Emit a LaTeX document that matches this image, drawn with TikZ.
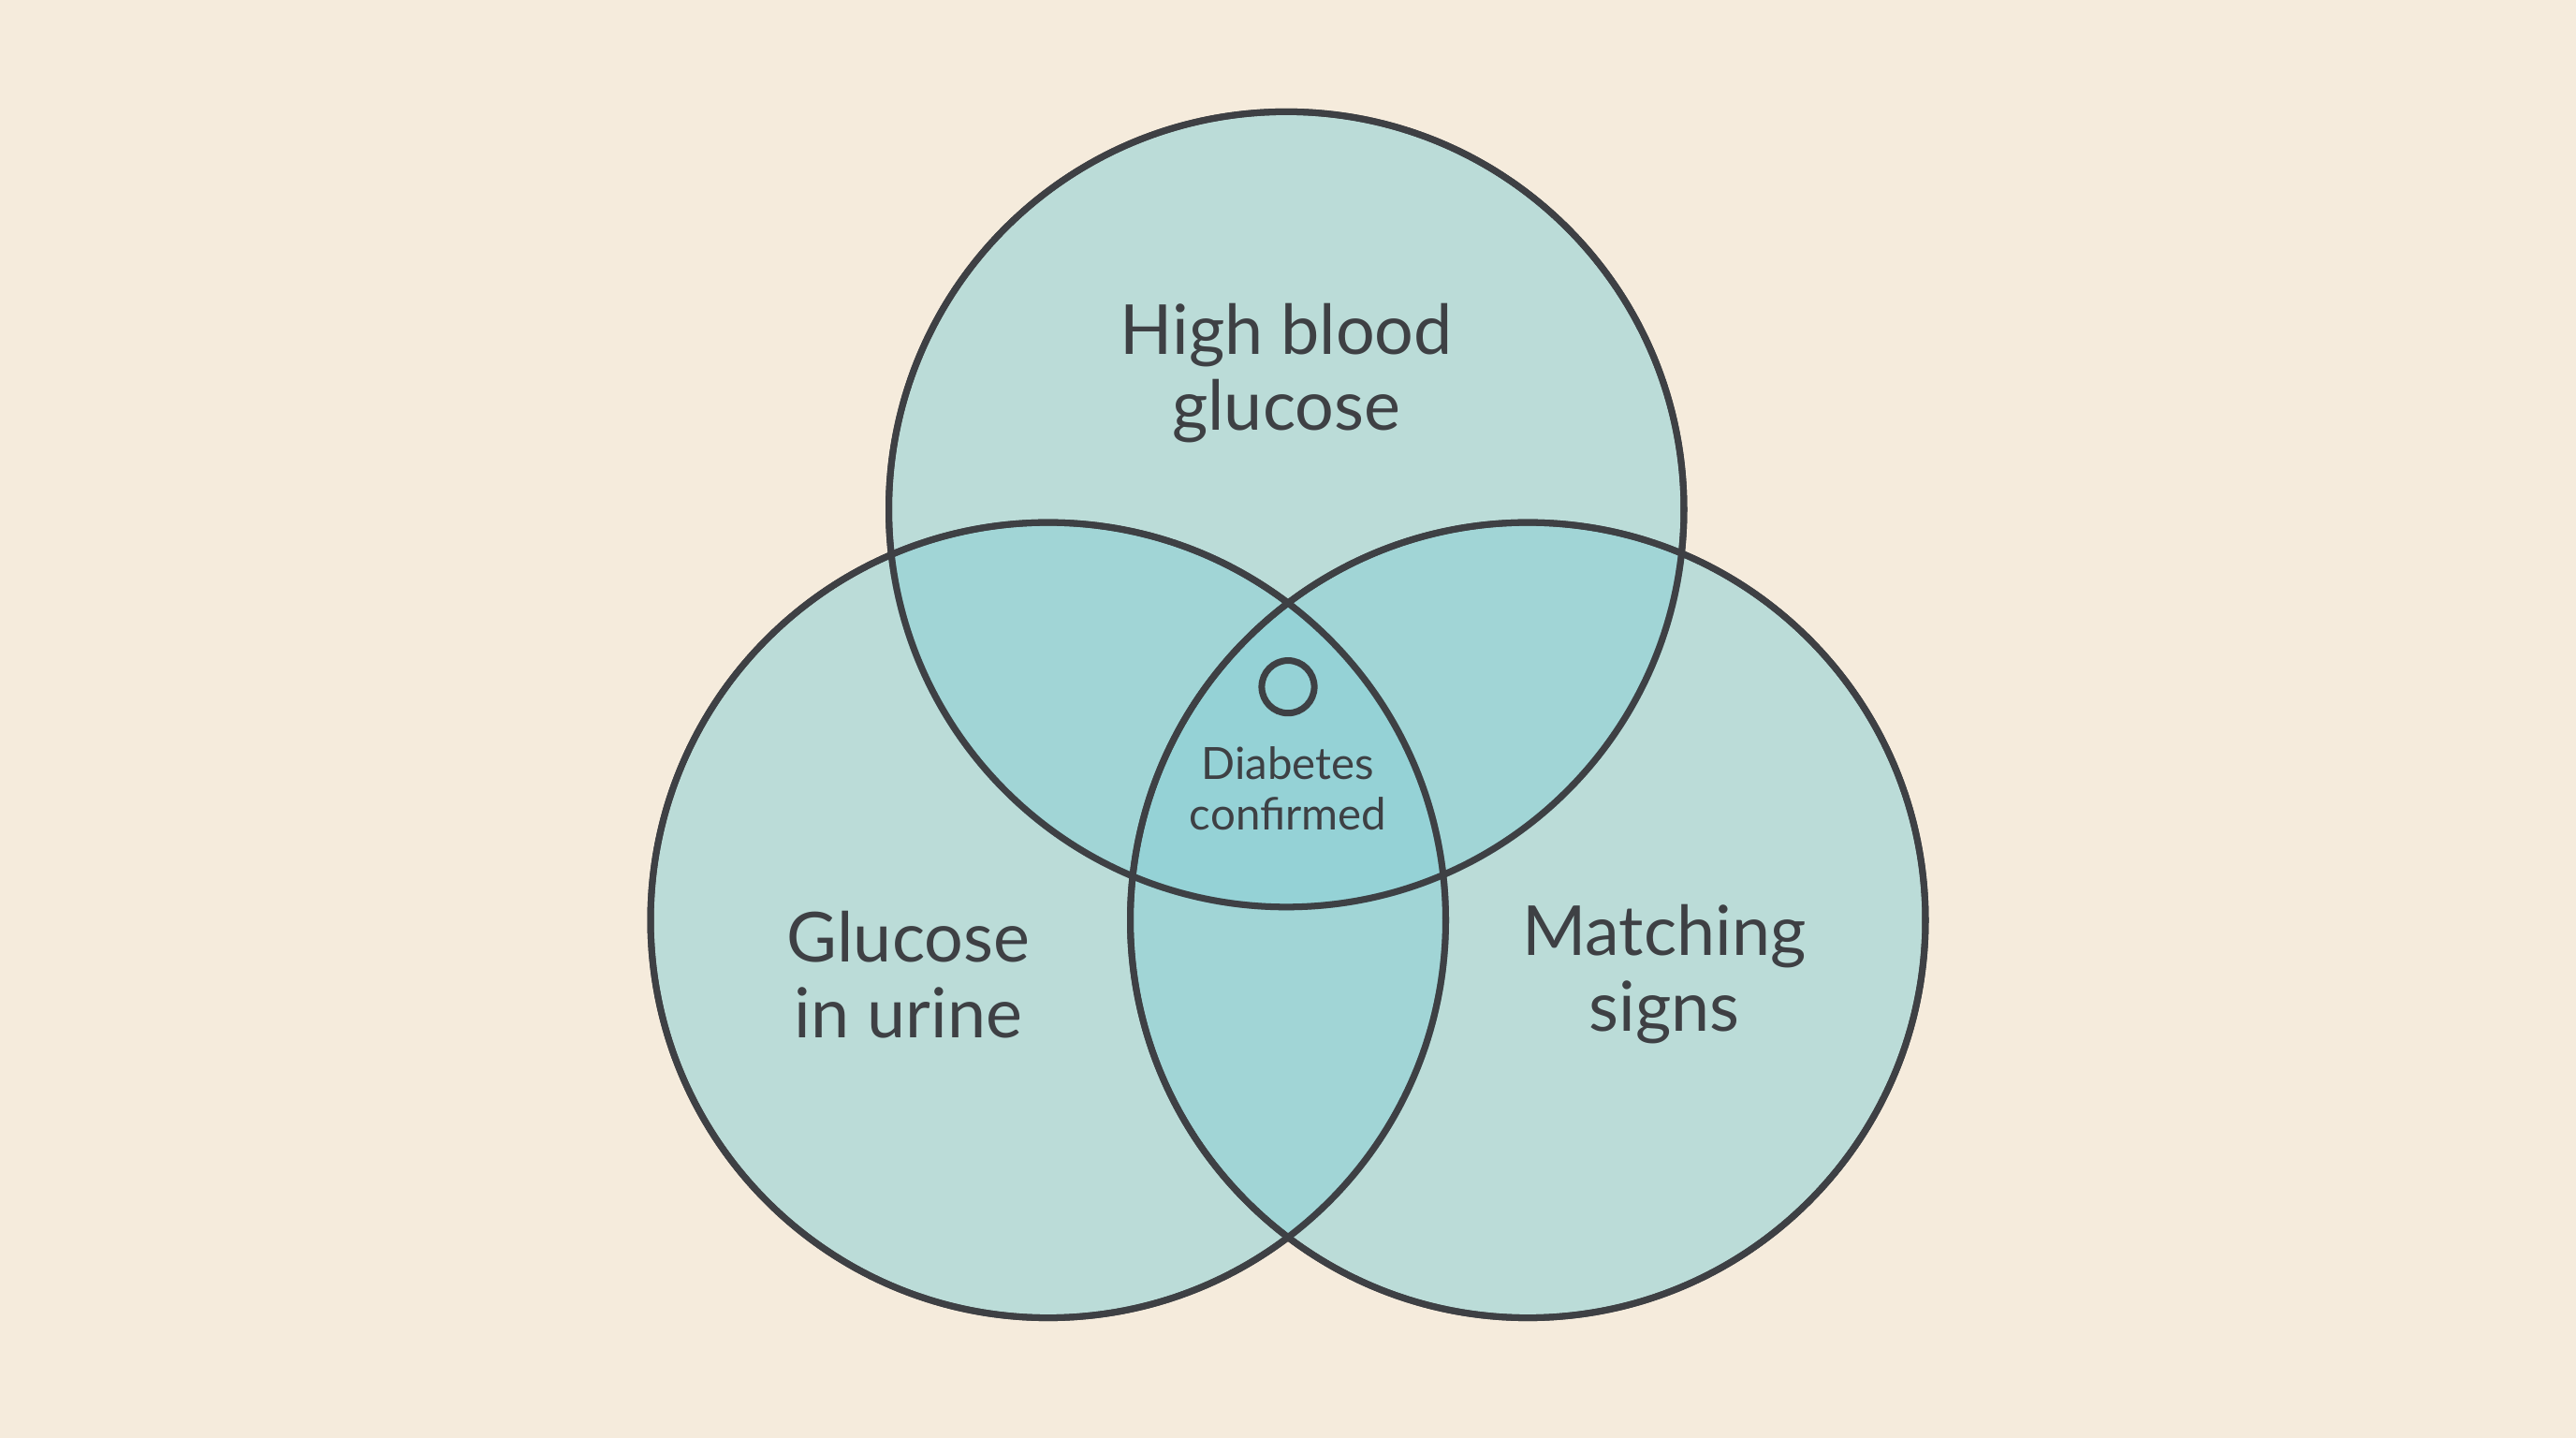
\documentclass[tikz,border=0pt]{standalone}
\usepackage{fontspec}
\setmainfont{Lato}
\definecolor{bg}{RGB}{245,235,220}
\definecolor{tealf}{RGB}{140,208,214}
\definecolor{ink}{RGB}{62,64,68}
\begin{document}
\begin{tikzpicture}[x=1pt,y=-1pt,
  venn/.style={draw=ink,line width=4pt,fill=tealf,fill opacity=0.55,circle,minimum size=484pt,inner sep=0pt},
  lab/.style={text=ink,font=\fontsize{42}{46}\selectfont,align=center},
  slab/.style={text=ink,font=\fontsize{27}{31}\selectfont,align=center}]
\fill[bg] (0,0) rectangle (1568,875);
\useasboundingbox (0,0) rectangle (1568,875);
\node[venn] (top) at (783,310) {};
\node[venn] (left) at (638,560) {};
\node[venn] (right) at (930,560) {};
\draw[ink,line width=4pt] (top.center) circle (242);
\draw[ink,line width=4pt] (left.center) circle (242);
\draw[ink,line width=4pt] (right.center) circle (242);
\node[lab] (t1) at (783,227) {High blood\\glucose};
\node[lab] (t2) at (553,593) {Glucose\\in urine};
\node[lab] (t3) at (1013,593) {Matching\\signs};
\node[draw=ink,line width=4pt,circle,minimum size=32pt,inner sep=0pt] (dot) at (784,418) {};
\node[slab] (t4) at (784,480) {Diabetes\\confirmed};
\end{tikzpicture}
\end{document}
